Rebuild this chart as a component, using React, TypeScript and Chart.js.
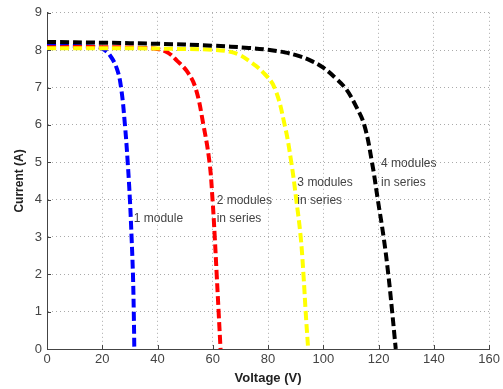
import React, { useEffect, useRef } from "react";
import { Chart, registerables } from "chart.js";

Chart.register(...registerables);

// Voltage (V) / Current (A) readings for each curve
const v1 = [0, 10, 17, 20, 22.7, 25.3, 26.8, 28.2, 29.2, 30, 30.6, 31.1, 31.4, 31.6];
const i1 = [8.12, 8.11, 8.09, 8.04, 7.87, 7.5, 7.0, 6.0, 5.0, 4.0, 3.0, 2.0, 1.0, 0];

const v2 = [0, 20, 35, 40, 44, 47, 50.5, 53.7, 56.6, 58.8, 59.9, 60.7, 61.4, 62.1, 62.8];
const i2 = [8.08, 8.08, 8.06, 8.03, 7.92, 7.72, 7.45, 7.0, 6.0, 5.0, 4.0, 3.0, 2.0, 1.0, 0];

const v3 = [0, 30, 50, 60, 66, 70, 73.3, 78, 82.3, 86, 88.4, 90.2, 91.8, 92.8, 93.6, 94.5];
const i3 = [8.05, 8.05, 8.03, 8.01, 7.96, 7.86, 7.7, 7.42, 7.0, 6.0, 5.0, 4.0, 3.0, 2.0, 1.0, 0];

const v4 = [0, 20, 40, 60, 73, 80, 86, 91.3, 96, 100, 104.6, 108.3, 111.8, 114.8, 117.6, 119.7, 121.8, 123.5, 124.9, 126.2];
const i4 = [8.22, 8.2, 8.17, 8.12, 8.06, 8.01, 7.94, 7.84, 7.7, 7.53, 7.24, 6.95, 6.5, 6.0, 5.0, 4.0, 3.0, 2.0, 1.0, 0];

const xTicks = [0, 20, 40, 60, 80, 100, 120, 140, 160];
const yTicks = [0, 1, 2, 3, 4, 5, 6, 7, 8, 9];

// Annotation labels: [voltage, current, text]
const labelV = [31.4, 61.4, 61.4, 90.6, 90.6, 120.9, 120.9];
const labelI = [3.48, 3.96, 3.48, 4.44, 3.96, 4.95, 4.44];
const labelText = ["1 module", "2 modules", "in series", "3 modules", "in series", "4 modules", "in series"];

const toPts = (xs: number[], ys: number[]) => xs.map((x, k) => ({ x, y: ys[k] }));

const FONT = "'Liberation Sans', Arial, sans-serif";

const extrasPlugin = {
  id: "extras",
  afterDraw(chart: any) {
    const { ctx, scales } = chart;
    const xs = scales.x;
    const ys = scales.y;
    ctx.save();
    // inward tick marks
    ctx.strokeStyle = "#444";
    ctx.lineWidth = 1;
    ctx.beginPath();
    xTicks.forEach((t) => {
      const px = Math.round(xs.getPixelForValue(t)) + 0.5;
      const py = ys.getPixelForValue(0);
      ctx.moveTo(px, py);
      ctx.lineTo(px, py - 4);
    });
    yTicks.forEach((t) => {
      const py = Math.round(ys.getPixelForValue(t)) + 0.5;
      const px = xs.getPixelForValue(0);
      ctx.moveTo(px, py);
      ctx.lineTo(px + 4, py);
    });
    ctx.stroke();
    // annotation texts
    ctx.fillStyle = "#444";
    ctx.font = "12px " + FONT;
    ctx.textAlign = "left";
    ctx.textBaseline = "middle";
    labelText.forEach((t, k) => {
      ctx.fillText(t, xs.getPixelForValue(labelV[k]), ys.getPixelForValue(labelI[k]));
    });
    ctx.restore();
  },
};

export default function App() {
  const ref = useRef<HTMLCanvasElement>(null);
  useEffect(() => {
    if (!ref.current) return;
    const mk = (data: any, color: string, order: number) => ({
      data,
      borderColor: color,
      backgroundColor: color,
      borderWidth: 4,
      borderDash: [9, 4],
      borderCapStyle: "butt",
      pointRadius: 0,
      fill: false,
      tension: 0.4,
      order,
    });
    const chart = new Chart(ref.current, {
      type: "line",
      data: {
        datasets: [
          mk(toPts(v1, i1), "#0000ff", 3),
          mk(toPts(v2, i2), "#ff0000", 2),
          mk(toPts(v3, i3), "#ffff00", 1),
          mk(toPts(v4, i4), "#000000", 0),
        ] as any,
      },
      options: {
        animation: false,
        responsive: false,
        layout: { padding: { top: 11, right: 13, left: 0, bottom: 0 } },
        plugins: { legend: { display: false }, tooltip: { enabled: false } },
        scales: {
          x: {
            type: "linear",
            min: 0,
            max: 160,
            afterBuildTicks: (s: any) => {
              s.ticks = xTicks.map((v) => ({ value: v }));
            },
            afterFit: (s: any) => {
              s.height = 40;
            },
            ticks: { color: "#444", font: { family: FONT, size: 13 }, padding: 3, maxRotation: 0 },
            grid: { color: "#aaa", lineWidth: 1, drawTicks: false },
            border: { display: true, color: "#444", width: 1, dash: [1, 3] },
            title: {
              display: true,
              text: "Voltage (V)",
              color: "#222",
              font: { family: FONT, size: 13, weight: "bold" },
              padding: { top: 0, bottom: 3 },
            },
          },
          y: {
            type: "linear",
            min: 0,
            max: 9,
            afterBuildTicks: (s: any) => {
              s.ticks = yTicks.map((v) => ({ value: v }));
            },
            afterFit: (s: any) => {
              s.width = 47;
            },
            ticks: { color: "#444", font: { family: FONT, size: 13 }, padding: 5 },
            grid: { color: "#aaa", lineWidth: 1, drawTicks: false },
            border: { display: true, color: "#444", width: 1, dash: [1, 3] },
            title: {
              display: true,
              text: "Current (A)",
              color: "#222",
              font: { family: FONT, size: 12, weight: "bold" },
              padding: { top: 12, bottom: 0 },
            },
          },
        },
      } as any,
      plugins: [extrasPlugin],
    });
    return () => chart.destroy();
  }, []);
  return (
    <div style={{ position: "fixed", left: 0, top: 0, width: 503, height: 389, background: "#fff" }}>
      <canvas ref={ref} width={503} height={389} style={{ display: "block" }} />
    </div>
  );
}
